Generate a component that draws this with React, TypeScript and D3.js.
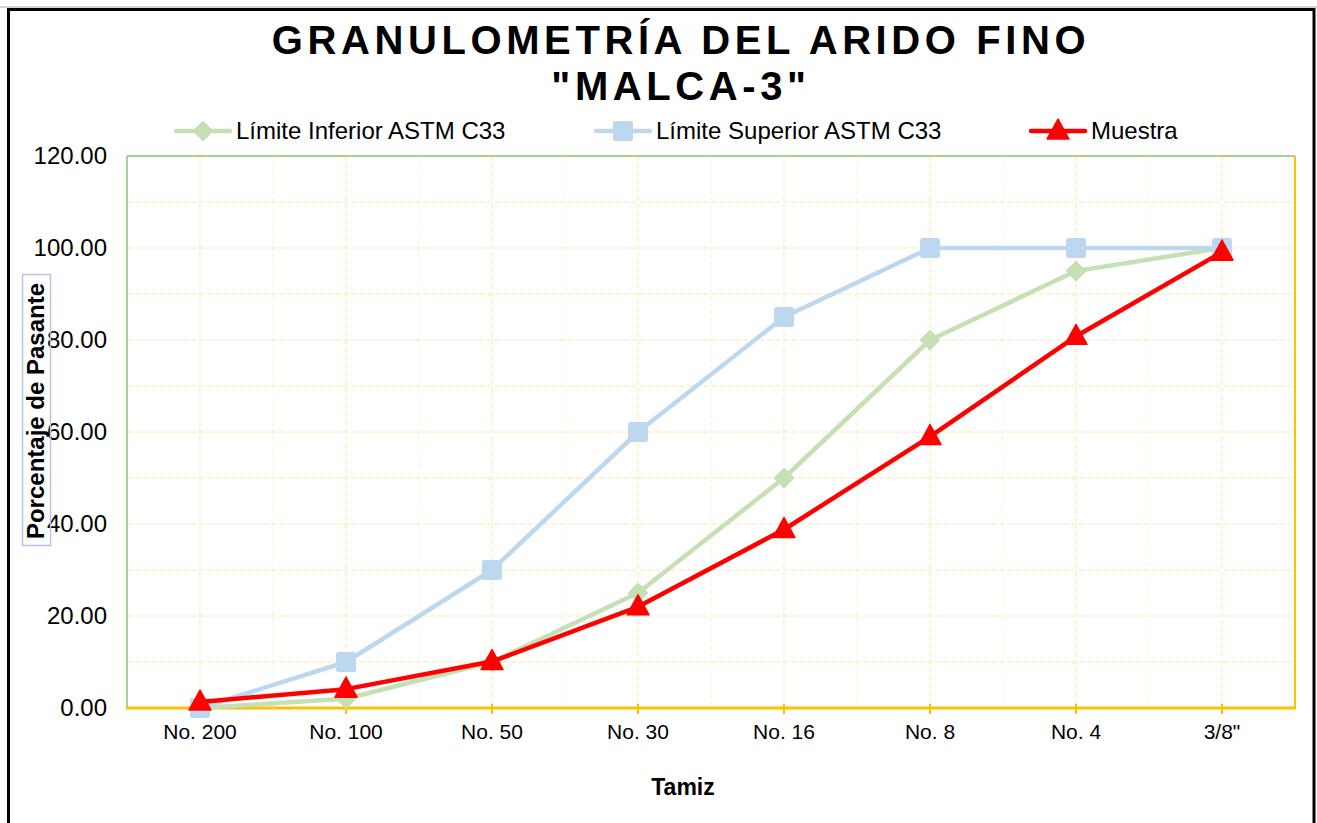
import React, { useEffect, useRef } from "react";
import * as d3 from "d3";

const tamices = ["No. 200", "No. 100", "No. 50", "No. 30", "No. 16", "No. 8", "No. 4", '3/8"'];
const limiteInferior = [0, 2, 10, 25, 50, 80, 95, 100];
const limiteSuperior = [0, 10, 30, 60, 85, 100, 100, 100];
const muestra = [1.3, 4.1, 10.1, 22, 38.8, 59, 80.8, 99.1];
const yTicks = [0, 20, 40, 60, 80, 100, 120];

const FONT = "Liberation Sans, Arial, sans-serif";

export default function App() {
  const svgRef = useRef<SVGSVGElement>(null);

  useEffect(() => {
    const svg = d3.select(svgRef.current);
    svg.selectAll("*").remove();

    const W = 1317, H = 823;
    const left = 127, top = 156, right = 1295, bottom = 708;

    // outer frame
    svg.append("rect").attr("x", 0).attr("y", 0).attr("width", W).attr("height", H).attr("fill", "#fff");
    svg.append("line").attr("x1", 0).attr("x2", W).attr("y1", 7).attr("y2", 7).attr("stroke", "#aaa").attr("stroke-width", 1);
    svg.append("rect").attr("x", 8.5).attr("y", 9.5).attr("width", 1305.5).attr("height", 830)
      .attr("fill", "none").attr("stroke", "#000").attr("stroke-width", 3);

    const x = d3.scaleBand().domain(tamices).range([left, right]).padding(0);
    const y = d3.scaleLinear().domain([0, 120]).range([bottom, top]);
    const cx = (d: string) => (x(d) as number) + x.bandwidth() / 2;

    const g = svg.append("g");

    // minor vertical gridlines at category boundaries
    tamices.slice(1).forEach(t => {
      g.append("line").attr("x1", x(t) as number).attr("x2", x(t) as number).attr("y1", top).attr("y2", bottom)
        .attr("stroke", "#FFF2CC").attr("stroke-width", 1).attr("stroke-dasharray", "4,3");
    });
    // vertical gridlines at categories
    tamices.forEach(t => {
      g.append("line").attr("x1", cx(t)).attr("x2", cx(t)).attr("y1", top).attr("y2", bottom)
        .attr("stroke", "#FFE699").attr("stroke-width", 1).attr("stroke-dasharray", "5,3");
    });
    // horizontal gridlines every 10
    d3.range(10, 120, 10).forEach(v => {
      g.append("line").attr("x1", left).attr("x2", right).attr("y1", y(v)).attr("y2", y(v))
        .attr("stroke", "#FFE699").attr("stroke-width", 1).attr("stroke-dasharray", "5,3");
    });

    // plot borders
    g.append("line").attr("x1", left).attr("x2", right).attr("y1", top).attr("y2", top).attr("stroke", "#A9D18E").attr("stroke-width", 2);
    g.append("line").attr("x1", left).attr("x2", left).attr("y1", top).attr("y2", bottom).attr("stroke", "#A9D18E").attr("stroke-width", 2);
    g.append("line").attr("x1", right).attr("x2", right).attr("y1", top).attr("y2", bottom).attr("stroke", "#FFC000").attr("stroke-width", 2);

    // x axis
    const xAxis = g.append("g").attr("transform", `translate(0,${bottom})`)
      .call(d3.axisBottom(x).tickSize(6).tickSizeOuter(0).tickPadding(10));
    xAxis.select(".domain").attr("stroke", "#FFC000").attr("stroke-width", 3).attr("d", `M${left - 1},0H${right + 1}`);
    xAxis.selectAll(".tick line").attr("stroke", "#FFC000").attr("stroke-width", 2).attr("y1", -4).attr("y2", 6);
    xAxis.selectAll(".tick text").attr("font-family", FONT).attr("font-size", 21).attr("fill", "#000");

    // y axis labels
    const yAxis = g.append("g").attr("transform", `translate(${left},0)`)
      .call(d3.axisLeft(y).tickValues(yTicks).tickSize(0).tickPadding(20).tickFormat(d => (d as number).toFixed(2)));
    yAxis.select(".domain").remove();
    yAxis.selectAll(".tick text").attr("font-family", FONT).attr("font-size", 24).attr("fill", "#000");

    // series
    const series = [
      { name: "Límite Inferior ASTM C33", values: limiteInferior, color: "#C5E0B4", marker: "diamond" },
      { name: "Límite Superior ASTM C33", values: limiteSuperior, color: "#BDD7EE", marker: "square" },
      { name: "Muestra", values: muestra, color: "#FF0000", marker: "triangle" },
    ];

    const drawMarker = (sel: any, kind: string, px: number, py: number, color: string) => {
      if (kind === "square") {
        sel.append("rect").attr("x", px - 10).attr("y", py - 10).attr("width", 20).attr("height", 20)
          .attr("rx", 2.5).attr("fill", color);
      } else if (kind === "diamond") {
        sel.append("path").attr("d", `M${px},${py - 10}L${px + 10},${py}L${px},${py + 10}L${px - 10},${py}Z`)
          .attr("fill", color).attr("stroke", color).attr("stroke-width", 1).attr("stroke-linejoin", "round");
      } else {
        sel.append("path").attr("d", `M${px},${py - 12}L${px + 11},${py + 8}L${px - 11},${py + 8}Z`)
          .attr("fill", color).attr("stroke", color).attr("stroke-width", 1.5).attr("stroke-linejoin", "round");
      }
    };

    const line = d3.line<number>().x((_, i) => cx(tamices[i])).y(d => y(d));
    series.forEach(s => {
      g.append("path").attr("d", line(s.values) as string).attr("fill", "none")
        .attr("stroke", s.color).attr("stroke-width", 4.5).attr("stroke-linejoin", "round");
      s.values.forEach((v, i) => drawMarker(g, s.marker, cx(tamices[i]), y(v), s.color));
    });

    // legend
    const legendX = [176, 596, 1031];
    series.forEach((s, i) => {
      const lx = legendX[i], ly = 131;
      svg.append("line").attr("x1", lx).attr("x2", lx + 54).attr("y1", ly).attr("y2", ly)
        .attr("stroke", s.color).attr("stroke-width", 4.5).attr("stroke-linecap", "round");
      drawMarker(svg, s.marker, lx + 27, ly, s.color);
      svg.append("text").attr("x", lx + 60).attr("y", ly).attr("dy", "0.35em")
        .attr("font-family", FONT).attr("font-size", 24).attr("fill", "#000").text(s.name);
    });

    // titles
    const title = svg.append("text").attr("text-anchor", "middle").attr("font-family", FONT)
      .attr("font-weight", "bold").attr("font-size", 40).attr("letter-spacing", 4.6).attr("fill", "#000");
    title.append("tspan").attr("x", 681).attr("y", 54).text("GRANULOMETRÍA DEL ARIDO FINO");
    title.append("tspan").attr("x", 681).attr("y", 100).text('"MALCA-3"');

    svg.append("text").attr("x", 683).attr("y", 787).attr("dy", "0.35em").attr("text-anchor", "middle")
      .attr("font-family", FONT).attr("font-weight", "bold").attr("font-size", 23).attr("fill", "#000").text("Tamiz");

    svg.append("rect").attr("x", 22.5).attr("y", 274.5).attr("width", 28).attr("height", 271)
      .attr("fill", "none").attr("stroke", "#B4C7E7").attr("stroke-width", 1.5);
    svg.append("text").attr("transform", "translate(36,411) rotate(-90)").attr("dy", "0.35em")
      .attr("text-anchor", "middle").attr("font-family", FONT).attr("font-weight", "bold").attr("font-size", 24)
      .attr("fill", "#000").text("Porcentaje de Pasante");
  }, []);

  return (
    <svg ref={svgRef} width={1317} height={823}
      style={{ position: "absolute", left: 0, top: 0, display: "block" }} />
  );
}
